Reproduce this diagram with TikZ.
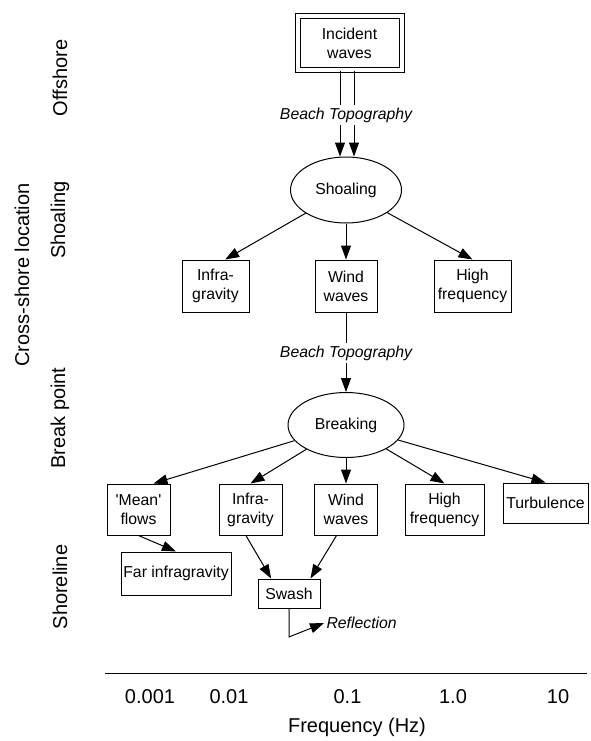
\documentclass[tikz,border=0pt]{standalone}
\usepackage{fontspec}
\setmainfont{Liberation Sans}
\usepackage{tikz}
\usetikzlibrary{shapes.geometric,arrows.meta}

\tikzset{
  lbl/.style={font=\fontsize{15.8}{19}\selectfont},
  box/.style={draw,align=center,inner sep=0pt,lbl},
  oval/.style={draw,ellipse,inner sep=0pt,lbl},
  topo/.style={font=\fontsize{15.8}{19}\selectfont\itshape,inner sep=2pt},
  big/.style={font=\fontsize{20}{24}\selectfont},
  arr/.style={-{Triangle[length=14pt,width=10pt]}},
}

\begin{document}
\begin{tikzpicture}[x=1pt,y=-1pt,line width=1pt]
  \useasboundingbox (0,0) rectangle (590,741);
  % offshore and shoaling
  \node[box,double,double distance=4pt,minimum width=104pt,minimum height=54pt] (inc) at (349.5,43.5) {Incident\\waves};
  \node[topo] (bt1) at (346,115) {Beach Topography};
  \node[oval,minimum width=111pt,minimum height=66pt] (shoal) at (346,190) {Shoaling};
  \node[box,minimum width=67pt,minimum height=52pt] (ig1) at (215.5,286) {Infra-\\gravity};
  \node[box,minimum width=62pt,minimum height=52pt] (ww1) at (346,286) {Wind\\waves};
  \node[box,minimum width=77pt,minimum height=52pt] (hf1) at (472.5,286) {High\\frequency};
  \draw ([xshift=-9.5pt]inc.south) -- ([xshift=-6pt]bt1.north);
  \draw ([xshift=4.5pt]inc.south) -- ([xshift=8pt]bt1.north);
  \draw[arr] ([xshift=-6pt]bt1.south) -- ([xshift=-6pt]shoal.north);
  \draw[arr] ([xshift=8pt]bt1.south) -- ([xshift=8pt]shoal.north);
  \draw[arr] (shoal) -- (ig1.70);
  \draw[arr] (shoal) -- (ww1);
  \draw[arr] (shoal) -- (hf1.north);
  % break point
  \node[topo] (bt2) at (346,353) {Beach Topography};
  \node[oval,minimum width=116pt,minimum height=65pt] (brk) at (346,425) {Breaking};
  \draw (ww1) -- (bt2);
  \draw[arr] (bt2) -- (brk);
  \node[box,minimum width=63pt,minimum height=51pt] (mf) at (138.5,509.5) {\textquotesingle Mean\textquotesingle\\flows};
  \node[box,minimum width=63pt,minimum height=51pt] (ig2) at (250.5,509.5) {Infra-\\gravity};
  \node[box,minimum width=63pt,minimum height=51pt] (ww2) at (346,509.5) {Wind\\waves};
  \node[box,minimum width=79pt,minimum height=51pt] (hf2) at (444.5,509.5) {High\\frequency};
  \node[box,minimum width=85pt,minimum height=40pt] (tb) at (545.5,503) {Turbulence};
  \draw[arr] (brk) -- (mf.60);
  \draw[arr] (brk) -- (ig2.north);
  \draw[arr] (brk) -- (ww2);
  \draw[arr] (brk) -- (hf2.north);
  \draw[arr] (brk) -- (tb.north);
  % shoreline
  \node[box,minimum width=110pt,minimum height=43pt] (fig) at (176,573.5) {Far infragravity};
  \node[box,minimum width=62pt,minimum height=29pt] (sw) at (289,593.5) {Swash};
  \node[topo,anchor=west] (refl) at (324,623) {Reflection};
  \coordinate (rb) at (289,637);
  \draw[arr] (mf.south) -- (fig.north);
  \draw[arr] (ig2.260) -- (sw.140);
  \draw[arr] (ww2.250) -- (sw.35);
  \draw[arr] (sw.south) -- (rb) -- (refl.west);
  % axes
  \coordinate (ax0) at (105,673);
  \coordinate (ax1) at (587,673);
  \draw (ax0) -- (ax1);
  \foreach \x/\f [count=\i] in {150/0.001, 229/0.01, 347.5/0.1, 453/1.0, 558/10}
     \node[big] (tick\i) at (\x,697) {\f};
  \node[big] (freq) at (357,727) {Frequency (Hz)};
  \foreach \y/\t [count=\i] in {78/Offshore, 220/Shoaling, 418/Break point, 587/Shoreline}
     \node[big,rotate=90] (zone\i) at (60,\y) {\t};
  \node[big,rotate=90] (xloc) at (22,275) {Cross-shore location};
\end{tikzpicture}
\end{document}
